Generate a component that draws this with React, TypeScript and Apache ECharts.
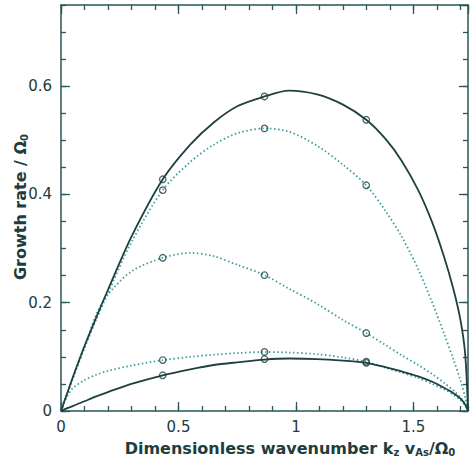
import React, { useEffect, useRef } from "react";
import * as echarts from "echarts";

// Dimensionless wavenumber samples (shared by every curve)
const waveNumbers = [0, 0.02, 0.05, 0.1, 0.15, 0.2, 0.3, 0.433, 0.55, 0.65, 0.75, 0.866, 0.97, 1.09, 1.2, 1.299, 1.38, 1.45, 1.52, 1.58, 1.63, 1.67, 1.7, 1.72, 1.732];

// Growth rate / Omega_0 for each curve
const solidUpper = [0, 0.025, 0.062, 0.12, 0.173, 0.224, 0.322, 0.428, 0.492, 0.533, 0.563, 0.581, 0.592, 0.585, 0.566, 0.538, 0.503, 0.462, 0.408, 0.348, 0.285, 0.225, 0.168, 0.105, 0];
const dottedUpper = [0, 0.024, 0.06, 0.117, 0.169, 0.218, 0.312, 0.408, 0.46, 0.492, 0.513, 0.522, 0.516, 0.49, 0.455, 0.417, 0.37, 0.322, 0.262, 0.2, 0.143, 0.095, 0.057, 0.025, 0];
const dottedMiddle = [0, 0.024, 0.06, 0.117, 0.178, 0.215, 0.258, 0.283, 0.292, 0.286, 0.27, 0.251, 0.226, 0.198, 0.168, 0.144, 0.122, 0.103, 0.085, 0.068, 0.052, 0.038, 0.025, 0.012, 0];
const dottedLower = [0, 0.022, 0.042, 0.057, 0.067, 0.074, 0.084, 0.094, 0.1, 0.104, 0.107, 0.109, 0.108, 0.105, 0.099, 0.091, 0.08, 0.071, 0.061, 0.05, 0.04, 0.03, 0.02, 0.01, 0];
const solidLower = [0, 0.004, 0.009, 0.018, 0.027, 0.035, 0.05, 0.066, 0.077, 0.085, 0.09, 0.095, 0.097, 0.096, 0.093, 0.089, 0.081, 0.073, 0.064, 0.054, 0.043, 0.033, 0.023, 0.012, 0];

// Marked (computed) points
const markerX = [0.433, 0.866, 1.299];
const markersSolidUpper = [0.428, 0.581, 0.538];
const markersDottedUpper = [0.408, 0.522, 0.417];
const markersDottedMiddle = [0.283, 0.251, 0.144];
const markersDottedLower = [0.094, 0.109, 0.091];
const markersSolidLower = [0.066, 0.096, 0.089];

const xTickLabels = ["0", "0.5", "1", "1.5"];
const yTickLabels = ["0", "0.2", "0.4", "0.6"];

const X_MAX = 1.732;
const Y_MAX = 0.75;

const DARK = "#1e4040";
const TEAL = "#3c9c9c";
const FRAME = "#2a5656";
const TEXT = "#203c3c";

export default function App() {
  const ref = useRef<HTMLDivElement>(null);

  useEffect(() => {
    if (!ref.current) return;
    const chart = echarts.init(ref.current, undefined, { renderer: "svg" });

    const fmt = (labels: string[]) => (v: number) => {
      const s = String(Math.round(v * 1000) / 1000);
      return labels.includes(s) ? s : "";
    };

    const baseX = (position: string, interval: number, len: number, showLine: boolean, labels: boolean) => ({
      type: "value",
      position,
      min: 0,
      max: X_MAX,
      interval,
      axisLine: { show: showLine, onZero: false, lineStyle: { color: FRAME, width: 1.5 } },
      axisTick: { show: true, inside: true, length: len, lineStyle: { color: FRAME, width: 1.3 } },
      axisLabel: labels
        ? { show: true, margin: 8, color: TEXT, fontSize: 15, lineHeight: 16, fontFamily: "DejaVu Sans", formatter: fmt(xTickLabels), showMaxLabel: false }
        : { show: false },
      splitLine: { show: false },
    });
    const baseY = (position: string, interval: number, len: number, showLine: boolean, labels: boolean) => ({
      type: "value",
      position,
      min: 0,
      max: Y_MAX,
      interval,
      axisLine: { show: showLine, onZero: false, lineStyle: { color: FRAME, width: 1.5 } },
      axisTick: { show: true, inside: true, length: len, lineStyle: { color: FRAME, width: 1.3 } },
      axisLabel: labels
        ? { show: true, margin: 9, color: TEXT, fontSize: 15, fontFamily: "DejaVu Sans", formatter: fmt(yTickLabels), showMaxLabel: false }
        : { show: false },
      splitLine: { show: false },
    });

    const line = (name: string, ys: number[], dotted: boolean) => ({
      name,
      type: "line",
      xAxisIndex: 0,
      yAxisIndex: 0,
      data: waveNumbers.map((x, i) => [x, ys[i]]),
      smooth: 0.3,
      showSymbol: false,
      lineStyle: dotted
        ? { color: TEAL, width: 1.8, type: [1.5, 2.5] }
        : { color: DARK, width: 1.8 },
      z: dotted ? 2 : 3,
    });
    const marks = (name: string, ys: number[]) => ({
      name,
      type: "scatter",
      xAxisIndex: 0,
      yAxisIndex: 0,
      data: markerX.map((x, i) => [x, ys[i]]),
      symbol: "circle",
      symbolSize: 6.5,
      itemStyle: { color: "rgba(255,255,255,0)", borderColor: DARK, borderWidth: 1.3 },
      z: 5,
    });

    const rich = {
      a: { fontSize: 16, fontWeight: "bold", fontFamily: "DejaVu Sans", fill: TEXT, verticalAlign: "top", lineHeight: 17 },
      s: { fontSize: 10, fontWeight: "bold", fontFamily: "DejaVu Sans", fill: TEXT, verticalAlign: "top", lineHeight: 10, padding: [7, 0, 0, 0] },
    };

    chart.setOption({
      animation: false,
      backgroundColor: "#ffffff",
      grid: { left: 61, right: 2, top: 5, bottom: 51, containLabel: false },
      xAxis: [
        baseX("bottom", 0.5, 9, true, true),
        baseX("bottom", 0.1, 5, false, false),
        baseX("top", 0.5, 9, true, false),
        baseX("top", 0.1, 5, false, false),
      ],
      yAxis: [
        baseY("left", 0.2, 9, true, true),
        baseY("left", 0.05, 5, false, false),
        baseY("right", 0.2, 9, true, false),
        baseY("right", 0.05, 5, false, false),
      ],
      series: [
        line("solidUpper", solidUpper, false),
        line("dottedUpper", dottedUpper, true),
        line("dottedMiddle", dottedMiddle, true),
        line("dottedLower", dottedLower, true),
        line("solidLower", solidLower, false),
        marks("mSolidUpper", markersSolidUpper),
        marks("mDottedUpper", markersDottedUpper),
        marks("mDottedMiddle", markersDottedMiddle),
        marks("mDottedLower", markersDottedLower),
        marks("mSolidLower", markersSolidLower),
      ],
      graphic: [
        {
          type: "text",
          x: 21,
          y: 207,
          rotation: Math.PI / 2,
          style: {
            text: "{a|Growth rate / Ω}{s|0}",
            align: "center",
            verticalAlign: "middle",
            fill: TEXT,
            rich,
          },
        },
        {
          type: "text",
          x: 290,
          y: 449,
          style: {
            text: "{a|Dimensionless wavenumber k}{s|z}{a| v}{s|As}{a|/Ω}{s|0}",
            align: "center",
            verticalAlign: "middle",
            fill: TEXT,
            rich,
          },
        },
      ],
    });

    return () => chart.dispose();
  }, []);

  return <div ref={ref} style={{ width: 470, height: 462, position: "absolute", left: 0, top: 0 }} />;
}
